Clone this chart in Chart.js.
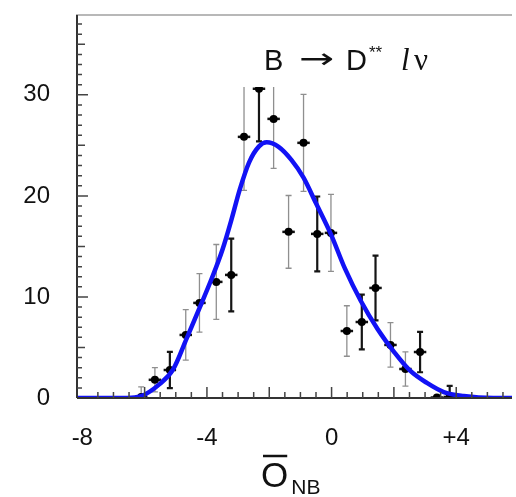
<!DOCTYPE html>
<html>
<head>
<meta charset="utf-8">
<script src="https://cdn.jsdelivr.net/npm/chart.js@4/dist/chart.umd.min.js"></script>
<style>
  body { margin: 0; background: #fff; }
  #wrap { width: 516px; height: 497px; }
</style>
</head>
<body>
<div id="wrap"><canvas id="chart" width="516" height="497"></canvas></div>
<script>
// fitted curve
const curveX = [-8.17, -7.0, -6.56, -6.14, -5.51, -5.09, -4.65, -4.24, -3.85, -3.50, -3.20, -2.95, -2.65, -2.33, -2.08, -1.70, -1.29, -0.90, -0.52, -0.02, 0.43, 0.94, 1.48, 2.02, 2.52, 3.06, 3.60, 4.24, 5.19, 5.79];
const curveY = [0, 0, 0, 0.15, 1.4, 2.8, 5.9, 8.9, 11.8, 14.7, 17.8, 20.6, 23.3, 24.9, 25.3, 24.85, 23.56, 21.8, 19.4, 16.2, 12.8, 9.6, 6.8, 4.5, 2.7, 1.49, 0.59, 0.2, 0, 0];

// data points, first sample (dark error bars)
const darkX = [-5.19, -3.22, -2.33, -0.46, 0.97, 1.41, 2.84, 3.79];
const darkY = [2.77, 12.18, 30.6, 16.24, 7.52, 10.89, 4.55, 0.1];
const darkErr = [1.8, 3.6, 5.2, 3.7, 2.7, 3.2, 2.0, 1.1];

// data points, second sample (grey error bars)
const greyX = [-6.11, -5.67, -4.68, -4.24, -3.70, -2.81, -1.86, -1.38, -0.90, -0.02, 0.49, 1.89, 2.37, 3.38];
const greyY = [0.1, 1.8, 6.24, 9.41, 11.49, 25.84, 27.62, 16.44, 25.25, 16.34, 6.63, 5.25, 2.87, 0.05];
const greyErr = [1.0, 1.2, 2.5, 2.9, 3.7, 5.3, 4.9, 3.6, 4.8, 3.8, 2.5, 2.2, 1.7, 0];

const xTicks = [-8, -4, 0, 4];
const yTicks = [0, 10, 20, 30];

function toPoints(xs, ys) {
  return xs.map(function (x, i) { return { x: x, y: ys[i] }; });
}

const errorBars = {
  id: "errorBars",
  beforeDatasetsDraw(chart) {
    const ctx = chart.ctx;
    const xs = chart.scales.x;
    const ys = chart.scales.y;
    const a = chart.chartArea;
    ctx.save();
    ctx.beginPath();
    ctx.rect(a.left, a.top, a.right - a.left, a.bottom - a.top);
    ctx.clip();
    chart.data.datasets.forEach(function (ds) {
      if (!ds.errors) return;
      ctx.strokeStyle = ds.barColor;
      ctx.lineWidth = ds.barWidth;
      ds.data.forEach(function (p, i) {
        const px = xs.getPixelForValue(p.x);
        const top = ys.getPixelForValue(p.y + ds.errors[i]);
        const bot = ys.getPixelForValue(Math.max(0, p.y - ds.errors[i]));
        ctx.beginPath();
        ctx.moveTo(px, top); ctx.lineTo(px, bot);
        ctx.moveTo(px - 3, top); ctx.lineTo(px + 3, top);
        ctx.moveTo(px - 3, bot); ctx.lineTo(px + 3, bot);
        ctx.stroke();
      });
    });
    // horizontal bin bars through the markers
    ctx.strokeStyle = "#111";
    ctx.lineWidth = 2.5;
    chart.data.datasets.forEach(function (ds) {
      if (!ds.errors) return;
      ds.data.forEach(function (p) {
        const py = ys.getPixelForValue(p.y);
        ctx.beginPath();
        ctx.moveTo(xs.getPixelForValue(p.x - 0.2), py);
        ctx.lineTo(xs.getPixelForValue(p.x + 0.2), py);
        ctx.stroke();
      });
    });
    ctx.restore();
  },
};

const frame = {
  id: "frame",
  afterDraw(chart) {
    const ctx = chart.ctx;
    const xs = chart.scales.x;
    const ys = chart.scales.y;
    const a = chart.chartArea;
    ctx.save();

    // label box hides the tops of the tallest bars
    ctx.fillStyle = "#fff";
    ctx.fillRect(238, a.top + 3, 240, 87 - a.top - 3);

    // top edge
    ctx.strokeStyle = "#b8b8b8";
    ctx.lineWidth = 2;
    ctx.beginPath();
    ctx.moveTo(a.left - 1, a.top); ctx.lineTo(a.right, a.top);
    ctx.stroke();

    // axes
    ctx.strokeStyle = "#333";
    ctx.lineWidth = 2;
    ctx.beginPath();
    ctx.moveTo(a.left, a.top); ctx.lineTo(a.left, a.bottom);
    ctx.moveTo(a.left, a.bottom); ctx.lineTo(a.right, a.bottom);
    ctx.stroke();

    // inner ticks
    ctx.lineWidth = 1.5;
    ctx.strokeStyle = "#444";
    ctx.beginPath();
    for (let v = 1; v <= 37; v++) {
      const py = ys.getPixelForValue(v);
      const len = v % 10 === 0 ? 11 : (v % 5 === 0 ? 8 : 5);
      ctx.moveTo(a.left, py); ctx.lineTo(a.left + len, py);
    }
    for (let v = -7.5; v <= 5.5; v += 0.5) {
      const px = xs.getPixelForValue(v);
      const len = v % 2 === 0 ? 11 : 6;
      ctx.moveTo(px, a.bottom); ctx.lineTo(px, a.bottom - len);
    }
    ctx.stroke();

    // process label
    ctx.fillStyle = "#111";
    ctx.textBaseline = "alphabetic";
    ctx.font = "29px 'Liberation Sans', Arial, sans-serif";
    ctx.fillText("B", 264, 70);
    ctx.font = "28px 'DejaVu Sans', sans-serif";
    ctx.save();
    ctx.translate(299, 0);
    ctx.scale(1.5, 1);
    ctx.fillText("\u2192", 0, 68);
    ctx.restore();
    ctx.font = "29px 'Liberation Sans', Arial, sans-serif";
    ctx.fillText("D", 346, 70);
    ctx.font = "17px 'Liberation Sans', Arial, sans-serif";
    ctx.fillText("**", 369, 58);
    ctx.font = "italic 31px 'Liberation Serif', serif";
    ctx.fillText("l", 401, 70);
    ctx.font = "31px 'Liberation Serif', serif";
    ctx.fillText("\u03BD", 414, 70);

    // x axis title with overline and subscript
    ctx.font = "35px 'Liberation Sans', Arial, sans-serif";
    ctx.fillText("O", 261, 487);
    const ow = ctx.measureText("O").width;
    ctx.lineWidth = 2.5;
    ctx.strokeStyle = "#111";
    ctx.beginPath();
    ctx.moveTo(263, 456); ctx.lineTo(261 + ow - 1, 456);
    ctx.stroke();
    ctx.font = "21px 'Liberation Sans', Arial, sans-serif";
    ctx.fillText("NB", 262 + ow + 2, 494);

    ctx.restore();
  },
};

new Chart(document.getElementById("chart"), {
  type: "scatter",
  data: {
    datasets: [
      {
        label: "fit",
        data: toPoints(curveX, curveY),
        showLine: true,
        borderColor: "#1212f5",
        borderWidth: 4.5,
        pointRadius: 0,
        cubicInterpolationMode: "monotone",
      },
      {
        label: "dark",
        data: toPoints(darkX, darkY),
        errors: darkErr,
        barColor: "#151515",
        barWidth: 2.2,
        pointRadius: 4,
        pointBackgroundColor: "#000",
        pointBorderWidth: 0,
      },
      {
        label: "grey",
        data: toPoints(greyX, greyY),
        errors: greyErr,
        barColor: "#8f8f8f",
        barWidth: 1.3,
        pointRadius: 4,
        pointBackgroundColor: "#000",
        pointBorderWidth: 0,
      },
    ],
  },
  options: {
    responsive: false,
    animation: false,
    devicePixelRatio: 1,
    layout: { padding: { top: 15, right: 0, left: 0, bottom: 0 } },
    plugins: {
      legend: { display: false },
      tooltip: { enabled: false },
    },
    scales: {
      x: {
        type: "linear",
        min: -8.17,
        max: 5.79,
        afterBuildTicks: function (scale) {
          scale.ticks = xTicks.map(function (v) { return { value: v }; });
        },
        afterFit: function (scale) {
          scale.height = 99;
          scale.paddingLeft = 0;
          scale.paddingRight = 0;
        },
        grid: { display: false, drawTicks: false },
        border: { display: false },
        ticks: {
          padding: 26,
          color: "#111",
          font: { family: "'Liberation Sans', Arial, sans-serif", size: 24 },
          callback: function (v) { return v > 0 ? "+" + v : String(v); },
        },
      },
      y: {
        type: "linear",
        min: 0,
        max: 37.9,
        afterBuildTicks: function (scale) {
          scale.ticks = yTicks.map(function (v) { return { value: v }; });
        },
        afterFit: function (scale) {
          scale.width = 77;
          scale.paddingTop = 0;
          scale.paddingBottom = 0;
        },
        grid: { display: false, drawTicks: false },
        border: { display: false },
        ticks: {
          padding: 27,
          color: "#111",
          font: { family: "'Liberation Sans', Arial, sans-serif", size: 24 },
        },
      },
    },
  },
  plugins: [errorBars, frame],
});
</script>
</body>
</html>
